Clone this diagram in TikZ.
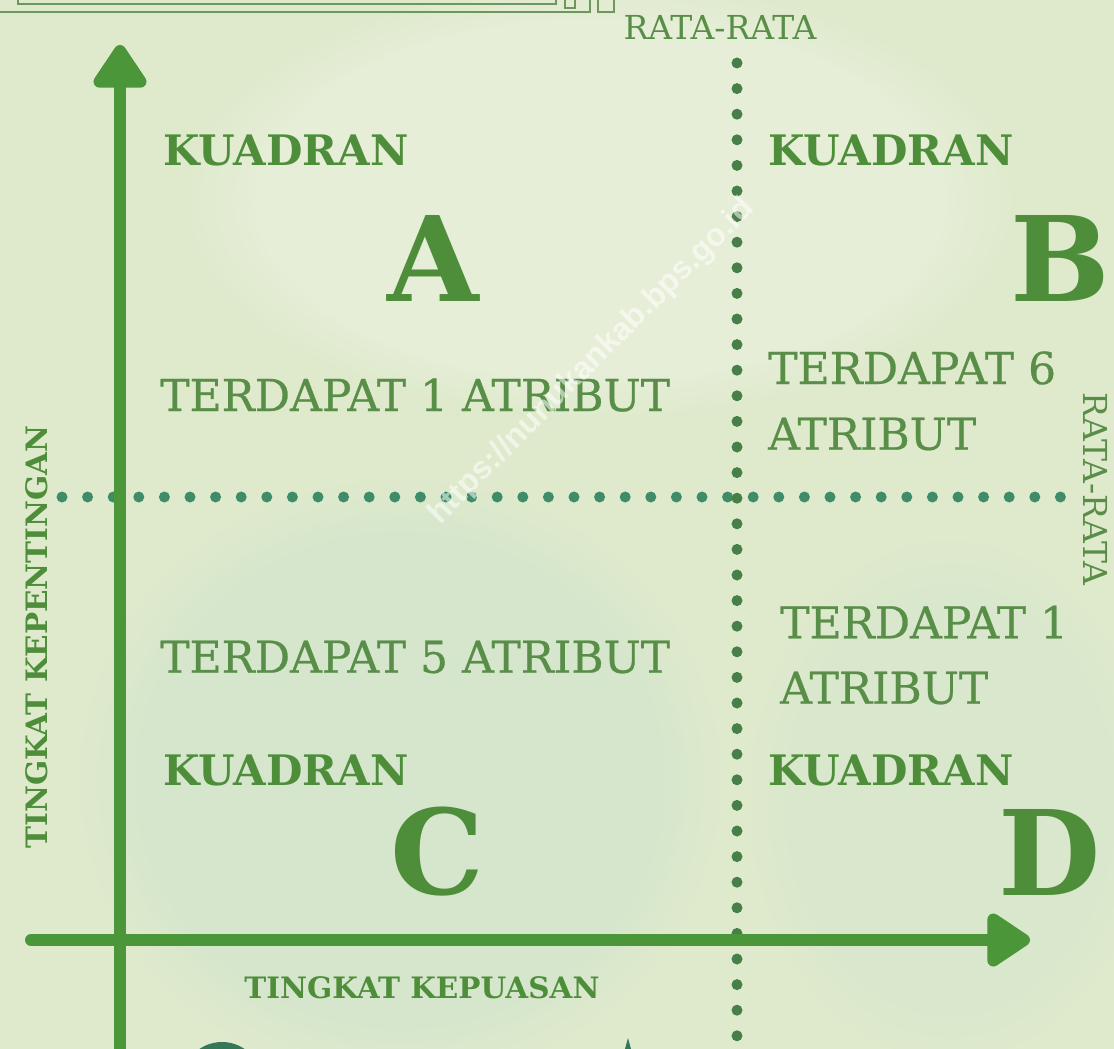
\documentclass[tikz,border=0pt]{standalone}
\usepackage{fontspec}
\setmainfont{DejaVu Serif}
\newfontfamily\countfont[FakeBold=0.6]{DejaVu Serif}
\newfontfamily\wmfont{Liberation Sans}
\usetikzlibrary{arrows.meta,fadings}

\definecolor{paper}{RGB}{223,234,204}
\definecolor{paperblue}{RGB}{196,224,206}
\definecolor{axisgreen}{RGB}{74,150,56}
\definecolor{inkgreen}{RGB}{78,142,58}
\definecolor{softgreen}{RGB}{88,142,72}
\definecolor{dotgreen}{RGB}{70,128,72}
\definecolor{dotteal}{RGB}{62,140,104}
\definecolor{framegreen}{RGB}{110,150,95}

\tikzset{
  axisline/.style={draw=axisgreen, line width=12pt, line cap=round,
    -{Triangle[length=48pt,width=60pt,round]}},
  dotrule/.style={line width=11pt, line cap=round, dash pattern=on 0pt off 25.6pt},
  quadword/.style={inner sep=0pt, text=inkgreen, font=\bfseries\fontsize{42}{42}\selectfont},
  quadletter/.style={inner sep=0pt, text=inkgreen, font=\bfseries\fontsize{118}{118}\selectfont},
  countline/.style={inner sep=0pt, text=softgreen, font=\countfont\fontsize{44}{44}\selectfont},
  axislabel/.style={inner sep=0pt, text=inkgreen, font=\bfseries\fontsize{29.5}{29.5}\selectfont},
  meanlabel/.style={inner sep=0pt, text=softgreen, font=\fontsize{33}{33}\selectfont},
}

\begin{document}
\begin{tikzpicture}[x=1pt,y=-1pt]
  % page and paper texture
  \fill[paper] (0,0) rectangle (1114,1049);
  \useasboundingbox (0,0) rectangle (1114,1049);
  \fill[paperblue, opacity=0.35, path fading=circle with fuzzy edge 20 percent]
    (400,780) ellipse [x radius=320, y radius=300];
  \fill[paperblue, opacity=0.22, path fading=circle with fuzzy edge 20 percent]
    (950,800) ellipse [x radius=200, y radius=260];
  \fill[white, opacity=0.22, path fading=circle with fuzzy edge 20 percent]
    (600,200) ellipse [x radius=420, y radius=220];

  % frame edge cut off at the top
  \draw[framegreen, line width=1.6pt] (-5,12) -- (590,12) -- (590,-5);
  \draw[framegreen, line width=1.2pt] (18,-5) -- (18,4) -- (556,4) -- (556,-5);
  \draw[framegreen, line width=1.2pt] (565,-2) rectangle (575,8);
  \draw[framegreen, line width=1.2pt] (598,-2) rectangle (614,12);

  % mean lines
  \coordinate (vtop) at (737,63);
  \coordinate (vbot) at (737,1060);
  \coordinate (hleft) at (62,497);
  \coordinate (hright) at (1062,497);
  \draw[dotrule, dotteal] (hleft) -- (hright);
  \draw[dotrule, dotgreen] (vtop) -- (vbot);

  % axes
  \coordinate (ybase) at (120,1060);
  \coordinate (ytip) at (120,45);
  \coordinate (xbase) at (31,940);
  \coordinate (xtip) at (1030,940);
  \draw[axisline] (ybase) -- (ytip);
  \draw[axisline] (xbase) -- (xtip);

  % shapes cut off at the bottom
  \fill[dotteal!85!black] (222,1082) circle (40);
  \fill[dotteal!85!black] (625,1049) -- (628,1038) -- (631,1049) -- cycle;

  % axis and mean labels
  \node[meanlabel] (meantop) at (720,27) {RATA-RATA};
  \node[meanlabel, rotate=-90] (meanright) at (1096,489) {RATA-RATA};
  \node[axislabel, rotate=90] (ylabel) at (37,637) {TINGKAT KEPENTINGAN};
  \node[axislabel] (xlabel) at (422,988) {TINGKAT KEPUASAN};

  % quadrant A
  \node[quadword, anchor=west] (kuadA) at (163,150) {KUADRAN};
  \node[quadletter] (letA) at (433,258) {A};
  \node[countline, anchor=west] (cntA) at (160,395) {TERDAPAT 1 ATRIBUT};

  % quadrant B
  \node[quadword, anchor=west] (kuadB) at (768,150) {KUADRAN};
  \node[quadletter] (letB) at (1060,258) {B};
  \node[countline, anchor=west] (cntBa) at (768,368) {TERDAPAT 6};
  \node[countline, anchor=west] (cntBb) at (768,434) {ATRIBUT};

  % quadrant C
  \node[countline, anchor=west] (cntC) at (160,657) {TERDAPAT 5 ATRIBUT};
  \node[quadword, anchor=west] (kuadC) at (163,770) {KUADRAN};
  \node[quadletter] (letC) at (437,852) {C};

  % quadrant D
  \node[countline, anchor=west] (cntDa) at (780,622) {TERDAPAT 1};
  \node[countline, anchor=west] (cntDb) at (780,688) {ATRIBUT};
  \node[quadword, anchor=west] (kuadD) at (768,770) {KUADRAN};
  \node[quadletter] (letD) at (1050,852) {D};

  % site mark
  \node[inner sep=0pt, rotate=45, text=white, opacity=0.55,
        font=\wmfont\bfseries\fontsize{32}{32}\selectfont] (site) at (592,362)
        {https://nunukankab.bps.go.id};
\end{tikzpicture}
\end{document}
